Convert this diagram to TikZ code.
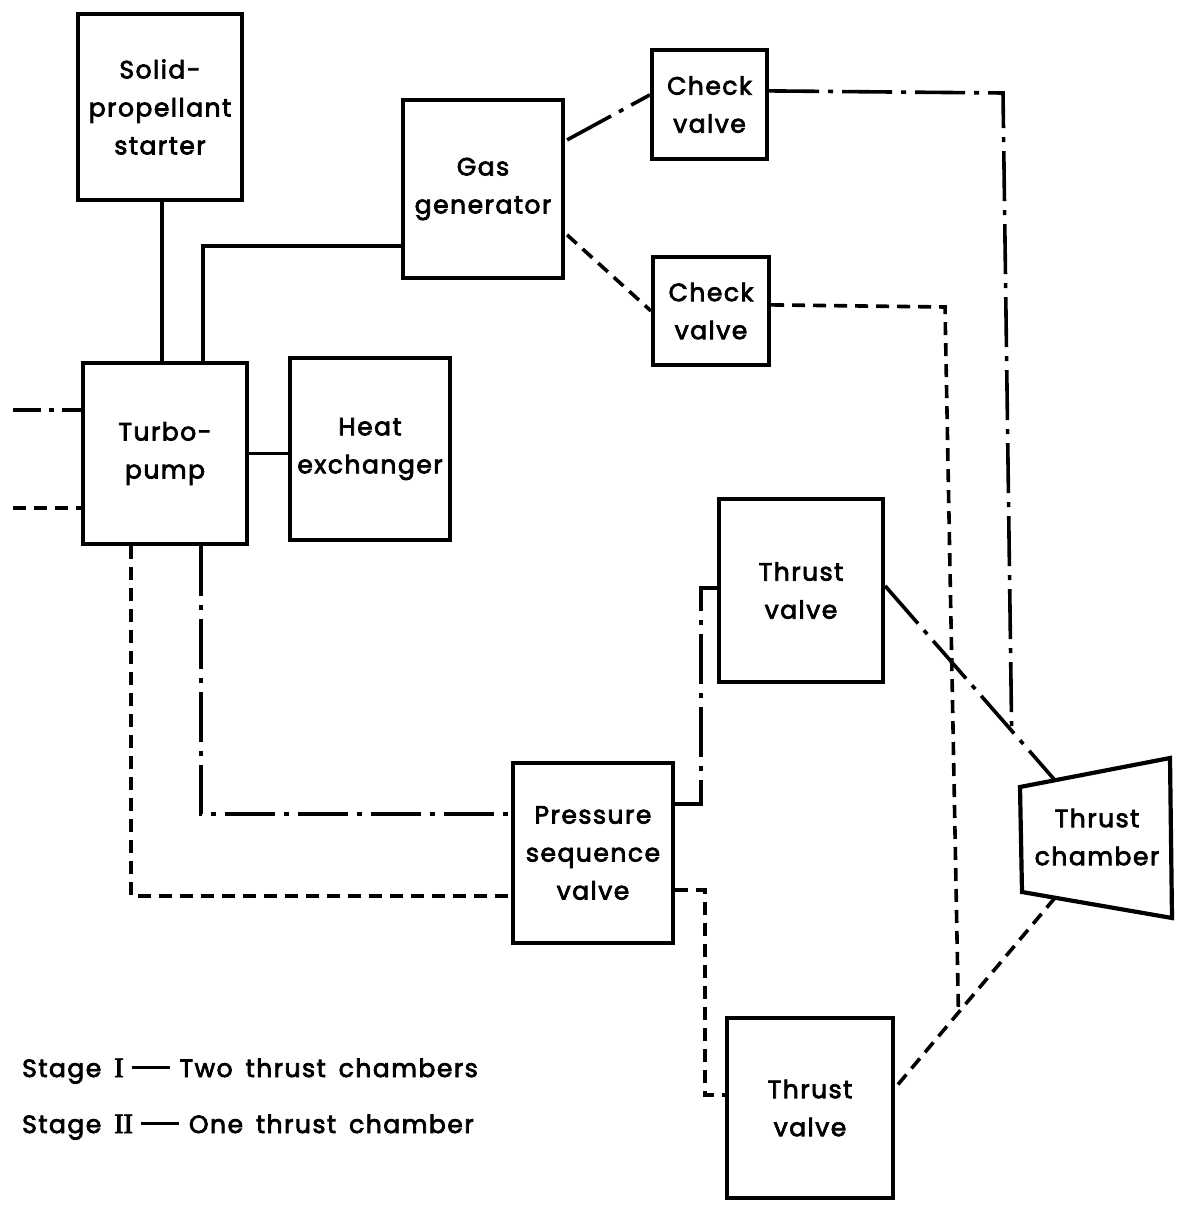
\documentclass[tikz,border=0pt]{standalone}
\usepackage{fontspec}
\setmainfont{Poppins}[LetterSpace=6, FakeBold=3]
\newfontfamily\numeralfont{Liberation Serif}[FakeBold=3]
\usetikzlibrary{calc}
\newcommand{\legdash}{\hspace{8pt}\rule[8pt]{38pt}{2.8pt}\hspace{10pt}}
\newcommand{\wsp}{\hspace{13pt}}
\begin{document}
\begin{tikzpicture}[x=1pt,y=-1pt,
  lbl/.style={font=\fontsize{25}{38}\selectfont, align=center},
  box/.style={draw, line width=4.2pt, rectangle, inner sep=0pt, lbl},
  conn/.style={line width=3.6pt},
  gasline/.style={conn, dashed, dash pattern=on 13pt off 8pt},
  oxline/.style={conn, dash pattern=on 50pt off 9pt on 5pt off 9pt},
]
\useasboundingbox (0,0) rectangle (1180,1209);

% component blocks
\node[box, minimum width=164pt, minimum height=186pt] (starter) at (160,107) {Solid-\\propellant\\starter};
\node[box, minimum width=160pt, minimum height=178pt] (gasgen) at (483,189) {Gas\\generator};
\node[box, minimum width=115pt, minimum height=109pt] (check1) at (709.5,104.5) {Check\\valve};
\node[box, minimum width=116pt, minimum height=108pt] (check2) at (711,311) {Check\\valve};
\node[box, minimum width=164pt, minimum height=181pt] (pump) at (165,453.5) {Turbo-\\pump};
\node[box, minimum width=160pt, minimum height=182pt] (hx) at (370,449) {Heat\\exchanger};
\node[box, minimum width=164pt, minimum height=183pt] (tv1) at (801,590.5) {Thrust\\valve};
\node[box, minimum width=160pt, minimum height=180pt] (psv) at (593,853) {Pressure\\sequence\\valve};
\node[box, minimum width=166pt, minimum height=180pt] (tv2) at (810,1108) {Thrust\\valve};

% thrust chamber (nozzle outline)
\coordinate (ch1) at (1020,787);
\coordinate (ch2) at (1170,758);
\coordinate (ch3) at (1172,918);
\coordinate (ch4) at (1022,892);
\draw[line width=4.2pt, line join=miter] (ch1) -- (ch2) -- (ch3) -- (ch4) -- cycle;
\node[lbl] (chamber) at (1097,837) {Thrust\\chamber};
\coordinate (chtop) at ($(ch1)!0.233!(ch2)$);
\coordinate (chbot) at ($(ch4)!0.22!(ch3)$);

% solid connections
\draw[conn] ([xshift=2pt]starter.south) -- ([xshift=2pt]starter.south |- pump.north);
\draw[conn] ($(pump.north west)+(122,0)$) |- ($(gasgen.north west)+(0,148)$);
\draw[conn] (pump.east) -- (pump.east -| hx.west);

% gas generator outlets
\draw[oxline] ($(gasgen.north east)+(2,42)$) -- ($(check1.north west)+(0,47)$);
\draw[gasline] ($(gasgen.north east)+(2,137)$) -- ($(check2.north west)+(0,56)$);

% thrust valve 1 to chamber, with junction
\coordinate (tv1out) at ($(tv1.north east)+(0,89)$);
\draw[oxline] (tv1out) -- (chtop);
\coordinate (j1) at ($(tv1out)!0.745!(chtop)$);
\coordinate (c1) at (1003,93);
\draw[oxline] ($(check1.north east)+(0,43)$) -- (c1) -- (j1);

% thrust valve 2 to chamber, with junction
\coordinate (tv2out) at ($(tv2.north east)+(0,72)$);
\draw[gasline] (chbot) -- (tv2out);
\coordinate (j2) at ($(chbot)!0.604!(tv2out)$);
\coordinate (c2) at (945,307);
\draw[gasline] ($(check2.north east)+(0,50)$) -- (c2) -- (j2);

% propellant inlets
\coordinate (in1) at (13,410);
\coordinate (in2) at (13,508);
\draw[oxline, dash pattern=on 28pt off 8pt on 5pt off 8pt] (in1) -- (in1 -| pump.west);
\draw[gasline] (in2) -- (in2 -| pump.west);

% pump outlets to pressure sequence valve
\draw[oxline] ($(pump.south west)+(120,0)$) |- ($(psv.north west)+(0,53)$);
\draw[gasline] ($(pump.south west)+(50,0)$) |- ($(psv.north west)+(0,135)$);

% pressure sequence valve to thrust valves
\draw[oxline] ($(psv.north east)+(0,43)$) -- ++(26,0) |- ($(tv1.north west)+(0,91)$);
\draw[gasline] ($(psv.north east)+(0,129)$) -- ++(30,0) |- ($(tv2.north west)+(0,79)$);

% legend
\node[lbl, anchor=base west, inner sep=0pt] (leg1) at (22,1077) {Stage\wsp{\numeralfont\fontsize{28}{38}\selectfont I}\legdash Two\wsp thrust\wsp chambers};
\node[lbl, anchor=base west, inner sep=0pt] (leg2) at (22,1133) {Stage\wsp{\numeralfont\fontsize{28}{38}\selectfont II}\legdash One\wsp thrust\wsp chamber};
\end{tikzpicture}
\end{document}
